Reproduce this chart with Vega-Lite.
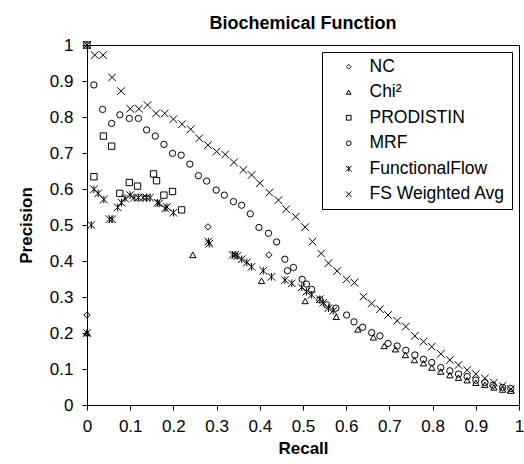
{
  "$schema": "https://vega.github.io/schema/vega-lite/v6.json",
  "width": 432,
  "height": 360,
  "autosize": {"type": "none"},
  "padding": {"left": 87, "top": 45, "right": 5, "bottom": 59},
  "background": "white",
  "config": {
    "font": "Liberation Sans",
    "view": {"stroke": "black", "strokeWidth": 1},
    "axis": {"grid": false, "domainColor": "black", "tickColor": "black", "labelColor": "black", "titleColor": "black", "labelFont": "Liberation Sans", "titleFont": "Liberation Sans", "labelFontSize": 17, "titleFontSize": 17, "titleFontWeight": "bold", "tickSize": 5, "domainWidth": 1, "tickWidth": 1},
    "title": {"font": "Liberation Sans", "fontSize": 18, "fontWeight": "bold", "color": "black"}
  },
  "title": {"text": "Biochemical Function", "anchor": "middle", "offset": 3},
  "data": {"values": [
    {"s":"NC","r":0,"p":0.25},{"s":"NC","r":0.28,"p":0.495},{"s":"NC","r":0.421,"p":0.417},
    {"s":"Chi²","r":0,"p":0.2},{"s":"Chi²","r":0.245,"p":0.417},{"s":"Chi²","r":0.404,"p":0.345},{"s":"Chi²","r":0.505,"p":0.289},{"s":"Chi²","r":0.577,"p":0.245},{"s":"Chi²","r":0.627,"p":0.21},{"s":"Chi²","r":0.663,"p":0.188},{"s":"Chi²","r":0.688,"p":0.164},{"s":"Chi²","r":0.714,"p":0.155},{"s":"Chi²","r":0.737,"p":0.139},{"s":"Chi²","r":0.758,"p":0.125},{"s":"Chi²","r":0.779,"p":0.116},{"s":"Chi²","r":0.798,"p":0.104},{"s":"Chi²","r":0.819,"p":0.093},{"s":"Chi²","r":0.84,"p":0.083},{"s":"Chi²","r":0.86,"p":0.076},{"s":"Chi²","r":0.88,"p":0.069},{"s":"Chi²","r":0.9,"p":0.062},{"s":"Chi²","r":0.921,"p":0.056},{"s":"Chi²","r":0.942,"p":0.049},{"s":"Chi²","r":0.962,"p":0.043},{"s":"Chi²","r":0.981,"p":0.04},
    {"s":"PRODISTIN","r":0,"p":1},{"s":"PRODISTIN","r":0.016,"p":0.634},{"s":"PRODISTIN","r":0.038,"p":0.747},{"s":"PRODISTIN","r":0.057,"p":0.719},{"s":"PRODISTIN","r":0.076,"p":0.588},{"s":"PRODISTIN","r":0.098,"p":0.618},{"s":"PRODISTIN","r":0.117,"p":0.608},{"s":"PRODISTIN","r":0.154,"p":0.642},{"s":"PRODISTIN","r":0.161,"p":0.623},{"s":"PRODISTIN","r":0.178,"p":0.583},{"s":"PRODISTIN","r":0.198,"p":0.593},{"s":"PRODISTIN","r":0.219,"p":0.542},
    {"s":"MRF","r":0.016,"p":0.889},{"s":"MRF","r":0.036,"p":0.821},{"s":"MRF","r":0.057,"p":0.782},{"s":"MRF","r":0.076,"p":0.806},{"s":"MRF","r":0.098,"p":0.796},{"s":"MRF","r":0.119,"p":0.796},{"s":"MRF","r":0.138,"p":0.764},{"s":"MRF","r":0.158,"p":0.747},{"s":"MRF","r":0.178,"p":0.724},{"s":"MRF","r":0.198,"p":0.699},{"s":"MRF","r":0.218,"p":0.694},{"s":"MRF","r":0.238,"p":0.669},{"s":"MRF","r":0.258,"p":0.637},{"s":"MRF","r":0.277,"p":0.622},{"s":"MRF","r":0.299,"p":0.597},{"s":"MRF","r":0.318,"p":0.583},{"s":"MRF","r":0.339,"p":0.565},{"s":"MRF","r":0.358,"p":0.555},{"s":"MRF","r":0.378,"p":0.531},{"s":"MRF","r":0.398,"p":0.493},{"s":"MRF","r":0.42,"p":0.477},{"s":"MRF","r":0.439,"p":0.453},{"s":"MRF","r":0.458,"p":0.405},{"s":"MRF","r":0.464,"p":0.373},{"s":"MRF","r":0.478,"p":0.382},{"s":"MRF","r":0.498,"p":0.349},{"s":"MRF","r":0.508,"p":0.336},{"s":"MRF","r":0.52,"p":0.321},{"s":"MRF","r":0.539,"p":0.292},{"s":"MRF","r":0.555,"p":0.278},{"s":"MRF","r":0.576,"p":0.269},{"s":"MRF","r":0.601,"p":0.25},{"s":"MRF","r":0.618,"p":0.231},{"s":"MRF","r":0.638,"p":0.216},{"s":"MRF","r":0.659,"p":0.201},{"s":"MRF","r":0.678,"p":0.192},{"s":"MRF","r":0.697,"p":0.171},{"s":"MRF","r":0.718,"p":0.164},{"s":"MRF","r":0.738,"p":0.152},{"s":"MRF","r":0.759,"p":0.139},{"s":"MRF","r":0.779,"p":0.127},{"s":"MRF","r":0.798,"p":0.118},{"s":"MRF","r":0.819,"p":0.104},{"s":"MRF","r":0.84,"p":0.095},{"s":"MRF","r":0.86,"p":0.086},{"s":"MRF","r":0.88,"p":0.079},{"s":"MRF","r":0.9,"p":0.069},{"s":"MRF","r":0.921,"p":0.062},{"s":"MRF","r":0.94,"p":0.055},{"s":"MRF","r":0.962,"p":0.049},{"s":"MRF","r":0.981,"p":0.046},
    {"s":"FunctionalFlow","r":0,"p":1},{"s":"FunctionalFlow","r":0,"p":0.2},{"s":"FunctionalFlow","r":0.01,"p":0.5},{"s":"FunctionalFlow","r":0.016,"p":0.599},{"s":"FunctionalFlow","r":0.026,"p":0.588},{"s":"FunctionalFlow","r":0.039,"p":0.571},{"s":"FunctionalFlow","r":0.052,"p":0.516},{"s":"FunctionalFlow","r":0.058,"p":0.516},{"s":"FunctionalFlow","r":0.071,"p":0.549},{"s":"FunctionalFlow","r":0.08,"p":0.562},{"s":"FunctionalFlow","r":0.088,"p":0.574},{"s":"FunctionalFlow","r":0.1,"p":0.583},{"s":"FunctionalFlow","r":0.109,"p":0.576},{"s":"FunctionalFlow","r":0.119,"p":0.576},{"s":"FunctionalFlow","r":0.13,"p":0.576},{"s":"FunctionalFlow","r":0.138,"p":0.576},{"s":"FunctionalFlow","r":0.146,"p":0.576},{"s":"FunctionalFlow","r":0.163,"p":0.562},{"s":"FunctionalFlow","r":0.167,"p":0.56},{"s":"FunctionalFlow","r":0.181,"p":0.546},{"s":"FunctionalFlow","r":0.185,"p":0.55},{"s":"FunctionalFlow","r":0.2,"p":0.534},{"s":"FunctionalFlow","r":0.281,"p":0.454},{"s":"FunctionalFlow","r":0.283,"p":0.448},{"s":"FunctionalFlow","r":0.337,"p":0.417},{"s":"FunctionalFlow","r":0.343,"p":0.417},{"s":"FunctionalFlow","r":0.348,"p":0.414},{"s":"FunctionalFlow","r":0.358,"p":0.405},{"s":"FunctionalFlow","r":0.37,"p":0.396},{"s":"FunctionalFlow","r":0.381,"p":0.384},{"s":"FunctionalFlow","r":0.408,"p":0.373},{"s":"FunctionalFlow","r":0.427,"p":0.356},{"s":"FunctionalFlow","r":0.458,"p":0.347},{"s":"FunctionalFlow","r":0.474,"p":0.338},{"s":"FunctionalFlow","r":0.497,"p":0.327},{"s":"FunctionalFlow","r":0.508,"p":0.315},{"s":"FunctionalFlow","r":0.52,"p":0.306},{"s":"FunctionalFlow","r":0.539,"p":0.294},{"s":"FunctionalFlow","r":0.547,"p":0.284},{"s":"FunctionalFlow","r":0.559,"p":0.269},{"s":"FunctionalFlow","r":0.57,"p":0.262},
    {"s":"FS Weighted Avg","r":0,"p":1},{"s":"FS Weighted Avg","r":0.018,"p":0.972},{"s":"FS Weighted Avg","r":0.037,"p":0.972},{"s":"FS Weighted Avg","r":0.058,"p":0.91},{"s":"FS Weighted Avg","r":0.079,"p":0.872},{"s":"FS Weighted Avg","r":0.1,"p":0.823},{"s":"FS Weighted Avg","r":0.12,"p":0.823},{"s":"FS Weighted Avg","r":0.14,"p":0.833},{"s":"FS Weighted Avg","r":0.16,"p":0.81},{"s":"FS Weighted Avg","r":0.18,"p":0.81},{"s":"FS Weighted Avg","r":0.2,"p":0.794},{"s":"FS Weighted Avg","r":0.22,"p":0.78},{"s":"FS Weighted Avg","r":0.24,"p":0.766},{"s":"FS Weighted Avg","r":0.26,"p":0.741},{"s":"FS Weighted Avg","r":0.28,"p":0.722},{"s":"FS Weighted Avg","r":0.3,"p":0.704},{"s":"FS Weighted Avg","r":0.32,"p":0.696},{"s":"FS Weighted Avg","r":0.34,"p":0.674},{"s":"FS Weighted Avg","r":0.362,"p":0.653},{"s":"FS Weighted Avg","r":0.381,"p":0.639},{"s":"FS Weighted Avg","r":0.4,"p":0.616},{"s":"FS Weighted Avg","r":0.422,"p":0.59},{"s":"FS Weighted Avg","r":0.443,"p":0.569},{"s":"FS Weighted Avg","r":0.461,"p":0.544},{"s":"FS Weighted Avg","r":0.483,"p":0.523},{"s":"FS Weighted Avg","r":0.505,"p":0.494},{"s":"FS Weighted Avg","r":0.522,"p":0.454},{"s":"FS Weighted Avg","r":0.542,"p":0.421},{"s":"FS Weighted Avg","r":0.559,"p":0.394},{"s":"FS Weighted Avg","r":0.579,"p":0.372},{"s":"FS Weighted Avg","r":0.601,"p":0.349},{"s":"FS Weighted Avg","r":0.619,"p":0.34},{"s":"FS Weighted Avg","r":0.64,"p":0.301},{"s":"FS Weighted Avg","r":0.659,"p":0.282},{"s":"FS Weighted Avg","r":0.678,"p":0.266},{"s":"FS Weighted Avg","r":0.697,"p":0.25},{"s":"FS Weighted Avg","r":0.718,"p":0.234},{"s":"FS Weighted Avg","r":0.738,"p":0.218},{"s":"FS Weighted Avg","r":0.759,"p":0.192},{"s":"FS Weighted Avg","r":0.779,"p":0.176},{"s":"FS Weighted Avg","r":0.798,"p":0.162},{"s":"FS Weighted Avg","r":0.819,"p":0.142},{"s":"FS Weighted Avg","r":0.84,"p":0.125},{"s":"FS Weighted Avg","r":0.86,"p":0.111},{"s":"FS Weighted Avg","r":0.88,"p":0.097},{"s":"FS Weighted Avg","r":0.9,"p":0.086},{"s":"FS Weighted Avg","r":0.921,"p":0.074},{"s":"FS Weighted Avg","r":0.942,"p":0.062},{"s":"FS Weighted Avg","r":0.962,"p":0.053},{"s":"FS Weighted Avg","r":0.981,"p":0.044}
  ]},
  "mark": {"type": "point", "filled": false, "strokeWidth": 1, "size": 40, "opacity": 1},
  "encoding": {
    "x": {"field": "r", "type": "quantitative", "title": "Recall", "scale": {"domain": [0, 1], "nice": false, "zero": false},
      "axis": {"values": [0,0.1,0.2,0.3,0.4,0.5,0.6,0.7,0.8,0.9,1], "format": "~g", "labelPadding": 8, "titlePadding": 6, "labelFlush": false}},
    "y": {"field": "p", "type": "quantitative", "title": "Precision", "scale": {"domain": [0, 1], "nice": false, "zero": false},
      "axis": {"values": [0,0.1,0.2,0.3,0.4,0.5,0.6,0.7,0.8,0.9,1], "format": "~g", "labelPadding": 9, "titlePadding": 14, "labelFlush": false}},
    "color": {"value": "black"},
    "shape": {"field": "s", "type": "nominal",
      "scale": {"domain": ["NC","Chi²","PRODISTIN","MRF","FunctionalFlow","FS Weighted Avg"],
                "range": ["diamond","triangle-up","square","circle","M-1.2,-1.2L1.2,1.2M-1.2,1.2L1.2,-1.2M0,-1.2L0,1.2","M-1.2,-1.2L1.2,1.2M-1.2,1.2L1.2,-1.2"]},
      "legend": {"title": null, "orient": "none", "legendX": 235, "legendY": 7, "strokeColor": "black", "fillColor": "white", "padding": 6, "symbolOffset": 12, "symbolSize": 22, "symbolStrokeColor": "black", "symbolStrokeWidth": 1, "symbolFillColor": "white", "labelFontSize": 17.5, "labelFont": "Liberation Sans", "labelColor": "black", "labelOffset": 12, "rowPadding": 6.5, "labelLimit": 300}}
  }
}
